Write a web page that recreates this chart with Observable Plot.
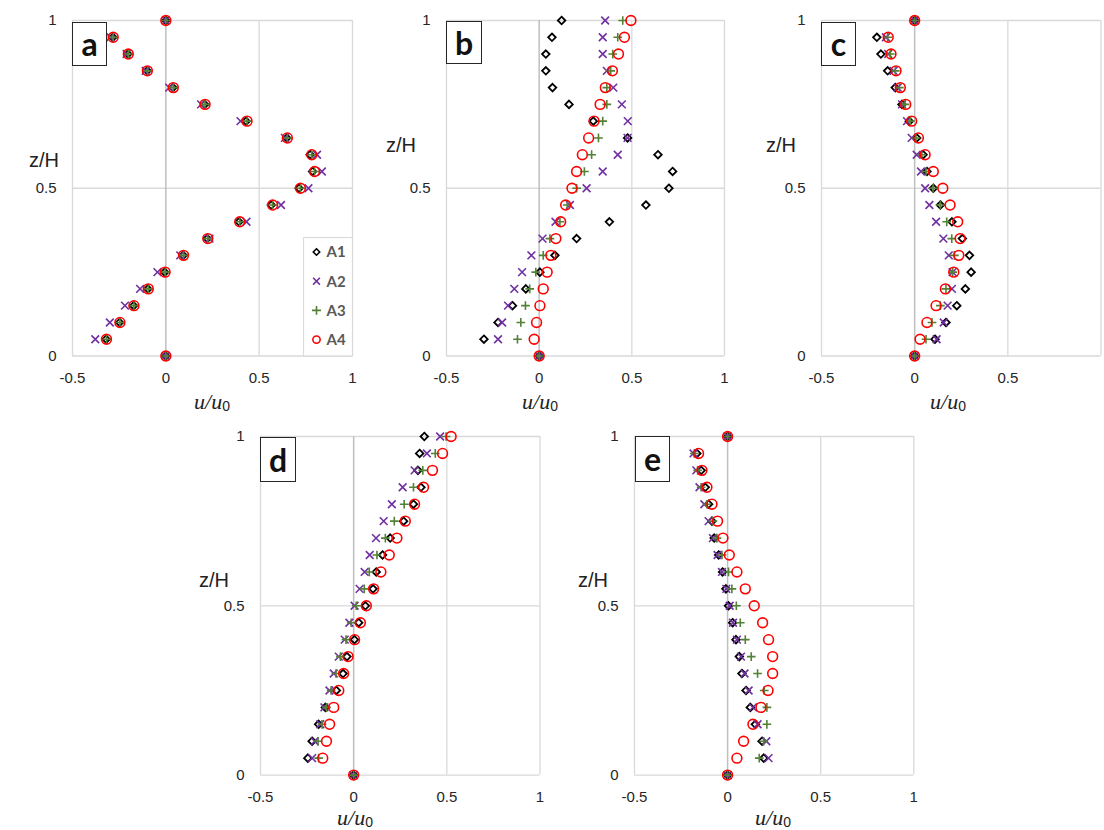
<!DOCTYPE html>
<html>
<head>
<meta charset="utf-8">
<script src="https://cdn.jsdelivr.net/npm/d3@7"></script>
<script src="https://cdn.jsdelivr.net/npm/@observablehq/plot@0.6"></script>
<style>
  html, body { margin: 0; padding: 0; background: #fff; overflow: hidden; }
  #root { position: relative; width: 1104px; height: 830px; overflow: hidden; background: #fff; }
  .zh { position: absolute; font-family: "Liberation Sans", Arial, sans-serif; font-size: 20px; color: #222; transform: translate(-50%, -50%); white-space: nowrap; }
  .uu { position: absolute; font-family: "Liberation Serif", "DejaVu Serif", serif; font-style: italic; font-size: 22px; color: #222; transform: translate(-50%, -50%); white-space: nowrap; line-height: 1; }
  .uu sub { font-family: "Liberation Sans", Arial, sans-serif; font-style: normal; font-size: 14px; vertical-align: -2px; line-height: 1; }
  .box { position: absolute; box-sizing: border-box; border: 1.6px solid #262626; background: #fff;
         font-family: Lato, "Open Sans", sans-serif; font-weight: 700; font-size: 32px; color: #111;
         display: flex; align-items: center; justify-content: center; line-height: 1; }
</style>
</head>
<body>
<div id="root"></div>
<script>
// ---- data ----
const zH = [0, 0.05, 0.1, 0.15, 0.2, 0.25, 0.3, 0.35, 0.4, 0.45, 0.5, 0.55, 0.6, 0.65, 0.7, 0.75, 0.8, 0.85, 0.9, 0.95, 1];
const seriesNames = ["A1", "A2", "A3", "A4"];
const xTicks = [-0.5, 0, 0.5, 1];
const yTicks = [0, 0.5, 1];

const a_A1 = [0, -0.32, -0.248, -0.173, -0.096, -0.006, 0.093, 0.222, 0.392, 0.565, 0.714, 0.786, 0.773, 0.648, 0.43, 0.208, 0.038, -0.1, -0.203, -0.284, 0];
const a_A2 = [0, -0.378, -0.30, -0.219, -0.138, -0.045, 0.077, 0.234, 0.432, 0.617, 0.764, 0.836, 0.81, 0.638, 0.40, 0.189, 0.018, -0.108, -0.21, -0.297, 0];
const a_A3 = [0, -0.318, -0.246, -0.171, -0.094, -0.004, 0.095, 0.225, 0.396, 0.572, 0.721, 0.797, 0.782, 0.651, 0.435, 0.21, 0.04, -0.099, -0.201, -0.282, 0];
const a_A4 = [0, -0.318, -0.246, -0.171, -0.094, -0.004, 0.095, 0.225, 0.396, 0.572, 0.721, 0.797, 0.782, 0.651, 0.435, 0.21, 0.04, -0.099, -0.201, -0.282, 0];

const b_A1 = [0, -0.298, -0.222, -0.144, -0.072, 0.004, 0.085, 0.202, 0.379, 0.576, 0.70, 0.72, 0.641, 0.477, 0.292, 0.161, 0.072, 0.036, 0.036, 0.069, 0.121];
const b_A2 = [0, -0.222, -0.20, -0.168, -0.134, -0.092, -0.042, 0.018, 0.088, 0.166, 0.256, 0.343, 0.424, 0.477, 0.478, 0.446, 0.40, 0.365, 0.343, 0.343, 0.356];
const b_A3 = [0, -0.117, -0.099, -0.074, -0.051, -0.018, 0.022, 0.058, 0.112, 0.152, 0.202, 0.244, 0.283, 0.32, 0.343, 0.365, 0.365, 0.386, 0.397, 0.424, 0.451];
const b_A4 = [0, -0.027, -0.014, 0.004, 0.022, 0.043, 0.063, 0.09, 0.116, 0.143, 0.177, 0.202, 0.233, 0.267, 0.296, 0.329, 0.357, 0.395, 0.428, 0.46, 0.495];

const c_A1 = [0, 0.109, 0.168, 0.226, 0.272, 0.303, 0.294, 0.256, 0.20, 0.138, 0.10, 0.066, 0.045, 0.011, -0.029, -0.068, -0.104, -0.145, -0.181, -0.203, 0];
const c_A2 = [0, 0.118, 0.156, 0.177, 0.20, 0.204, 0.183, 0.154, 0.115, 0.079, 0.056, 0.034, 0.011, -0.016, -0.041, -0.068, -0.091, -0.113, -0.142, -0.154, 0];
const c_A3 = [0, 0.061, 0.093, 0.138, 0.168, 0.204, 0.213, 0.199, 0.172, 0.138, 0.099, 0.061, 0.038, 0.007, -0.023, -0.052, -0.082, -0.104, -0.131, -0.145, 0];
const c_A4 = [0, 0.029, 0.066, 0.115, 0.165, 0.21, 0.237, 0.244, 0.231, 0.19, 0.151, 0.10, 0.056, 0.02, -0.016, -0.048, -0.077, -0.10, -0.127, -0.142, 0];

const d_A1 = [0, -0.246, -0.223, -0.188, -0.152, -0.093, -0.057, -0.036, 0.004, 0.027, 0.063, 0.104, 0.121, 0.155, 0.196, 0.268, 0.321, 0.361, 0.345, 0.354, 0.379];
const d_A2 = [0, -0.223, -0.209, -0.179, -0.157, -0.13, -0.107, -0.08, -0.048, -0.023, 0.005, 0.032, 0.059, 0.086, 0.12, 0.161, 0.205, 0.263, 0.327, 0.393, 0.464];
const d_A3 = [0, -0.188, -0.191, -0.17, -0.146, -0.121, -0.095, -0.071, -0.041, -0.013, 0.014, 0.057, 0.084, 0.125, 0.17, 0.218, 0.271, 0.321, 0.371, 0.438, 0.496];
const d_A4 = [0, -0.166, -0.146, -0.129, -0.107, -0.08, -0.054, -0.03, 0.005, 0.036, 0.068, 0.107, 0.146, 0.191, 0.232, 0.277, 0.327, 0.375, 0.423, 0.477, 0.523];

const e_A1 = [0, 0.194, 0.185, 0.149, 0.122, 0.099, 0.077, 0.063, 0.045, 0.027, 0.005, -0.009, -0.027, -0.048, -0.072, -0.084, -0.102, -0.12, -0.142, -0.165, 0];
const e_A2 = [0, 0.22, 0.208, 0.161, 0.136, 0.113, 0.091, 0.072, 0.05, 0.029, 0.011, -0.007, -0.03, -0.054, -0.079, -0.102, -0.125, -0.151, -0.168, -0.183, 0];
const e_A3 = [0, 0.17, 0.194, 0.211, 0.211, 0.197, 0.161, 0.127, 0.095, 0.068, 0.047, 0.023, 0.005, -0.03, -0.057, -0.079, -0.111, -0.142, -0.161, -0.179, 0];
const e_A4 = [0, 0.05, 0.086, 0.136, 0.179, 0.217, 0.242, 0.242, 0.22, 0.188, 0.143, 0.095, 0.05, 0.009, -0.025, -0.054, -0.084, -0.111, -0.138, -0.156, 0];

const panelLetters = ["a", "b", "c", "d", "e"];
const panelSeries = [
  [a_A1, a_A2, a_A3, a_A4],
  [b_A1, b_A2, b_A3, b_A4],
  [c_A1, c_A2, c_A3, c_A4],
  [d_A1, d_A2, d_A3, d_A4],
  [e_A1, e_A2, e_A3, e_A4]
];

// ---- styling ----
const seriesStyle = [
  {symbol: "diamond2", stroke: "#000000", r: 3.4, strokeWidth: 1.8},
  {symbol: "times",    stroke: "#7030A0", r: 3.6, strokeWidth: 1.6},
  {symbol: "plus",     stroke: "#538135", r: 2.9, strokeWidth: 1.6},
  {symbol: "circle",   stroke: "#FF0000", r: 4.9, strokeWidth: 1.6}
];

// plot-area frames (pixel positions on page)
const frames = [
  {L: 72,    R: 352,    T: 20,    B: 355.5, xlab: xTicks, box: [72, 22, 35, 44],  zh: [44, 160],  uu: [212, 402]},
  {L: 446,   R: 724,    T: 20,    B: 355.5, xlab: xTicks, box: [446, 21, 36, 43], zh: [401, 145], uu: [540, 402]},
  {L: 820.5, R: 1100,   T: 20,    B: 355.5, xlab: [-0.5, 0, 0.5], box: [821, 22, 35, 44], zh: [781, 145], uu: [948, 402]},
  {L: 260,   R: 539.5,  T: 435.7, B: 774.3, xlab: xTicks, box: [260, 437, 36, 45], zh: [214, 580], uu: [355, 818]},
  {L: 634,   R: 913.3,  T: 435.7, B: 774.3, xlab: xTicks, box: [635, 436, 35, 46], zh: [593, 580], uu: [773, 818]}
];

const root = document.getElementById("root");
const mL = 60, mR = 12, mT = 14, mB = 32;

frames.forEach((f, pi) => {
  const series = panelSeries[pi];
  const dotMarks = series.map((vals, si) => {
    const rows = zH.map((z, i) => ({u: vals[i], z, s: seriesNames[si]}));
    const st = seriesStyle[si];
    return Plot.dot(rows, {x: "u", y: "z", symbol: st.symbol, stroke: st.stroke, r: st.r,
                           strokeWidth: st.strokeWidth, fill: "none"});
  });
  const svg = Plot.plot({
    width: (f.R - f.L) + mL + mR,
    height: (f.B - f.T) + mT + mB,
    marginLeft: mL, marginRight: mR, marginTop: mT, marginBottom: mB,
    style: {background: "transparent", fontFamily: "'Liberation Sans', Arial, sans-serif", fontSize: "15px", color: "#262626", overflow: "visible"},
    x: {domain: [-0.5, 1]},
    y: {domain: [0, 1]},
    marks: [
      Plot.gridX(xTicks.filter(d => d !== 0), {stroke: "#d9d9d9", strokeOpacity: 1, strokeWidth: 1.3}),
      Plot.gridY(yTicks, {stroke: "#d9d9d9", strokeOpacity: 1, strokeWidth: 1.3}),
      Plot.ruleX([0], {stroke: "#bfbfbf", strokeWidth: 1.5}),
      Plot.axisX({ticks: f.xlab, tickSize: 0, tickPadding: 16, label: null, tickFormat: d => String(d), fill: "#262626"}),
      Plot.axisY({ticks: yTicks, tickSize: 0, tickPadding: 16, label: null, tickFormat: d => String(d), fill: "#262626"}),
      ...dotMarks
    ]
  });
  svg.style.position = "absolute";
  svg.style.left = (f.L - mL) + "px";
  svg.style.top = (f.T - mT) + "px";
  root.appendChild(svg);

  const box = document.createElement("div");
  box.className = "box";
  box.style.left = f.box[0] + "px"; box.style.top = f.box[1] + "px";
  box.style.width = f.box[2] + "px"; box.style.height = f.box[3] + "px";
  box.textContent = panelLetters[pi];
  root.appendChild(box);

  const zh = document.createElement("div");
  zh.className = "zh";
  zh.style.left = f.zh[0] + "px"; zh.style.top = f.zh[1] + "px";
  zh.textContent = "z/H";
  root.appendChild(zh);

  const uu = document.createElement("div");
  uu.className = "uu";
  uu.style.left = f.uu[0] + "px"; uu.style.top = f.uu[1] + "px";
  uu.innerHTML = "u/u<sub>0</sub>";
  root.appendChild(uu);
});

// ---- legend (inside panel a) ----
const lg = d3.select(root).append("svg")
  .attr("width", 50).attr("height", 120)
  .style("position", "absolute").style("left", "302.5px").style("top", "236.5px");
lg.append("rect").attr("x", 0.5).attr("y", 0.5).attr("width", 49).attr("height", 118.5)
  .attr("fill", "#fff").attr("stroke", "#d9d9d9").attr("stroke-width", 1.2);
const legSym = [d3.symbolDiamond2, d3.symbolTimes, d3.symbolPlus, d3.symbolCircle];
const legSize = [26, 32, 28, 42];
seriesNames.forEach((name, i) => {
  const cy = 15 + i * 29.2;
  lg.append("path")
    .attr("d", d3.symbol(legSym[i], legSize[i])())
    .attr("transform", `translate(13.5,${cy})`)
    .attr("fill", "none").attr("stroke", seriesStyle[i].stroke).attr("stroke-width", 1.6);
  lg.append("text").attr("x", 23.5).attr("y", cy).attr("dy", "0.36em")
    .attr("font-family", "Lato, 'Open Sans', sans-serif").attr("font-weight", 700)
    .attr("font-size", 15).attr("fill", "#595959").text(name);
});
</script>
</body>
</html>
